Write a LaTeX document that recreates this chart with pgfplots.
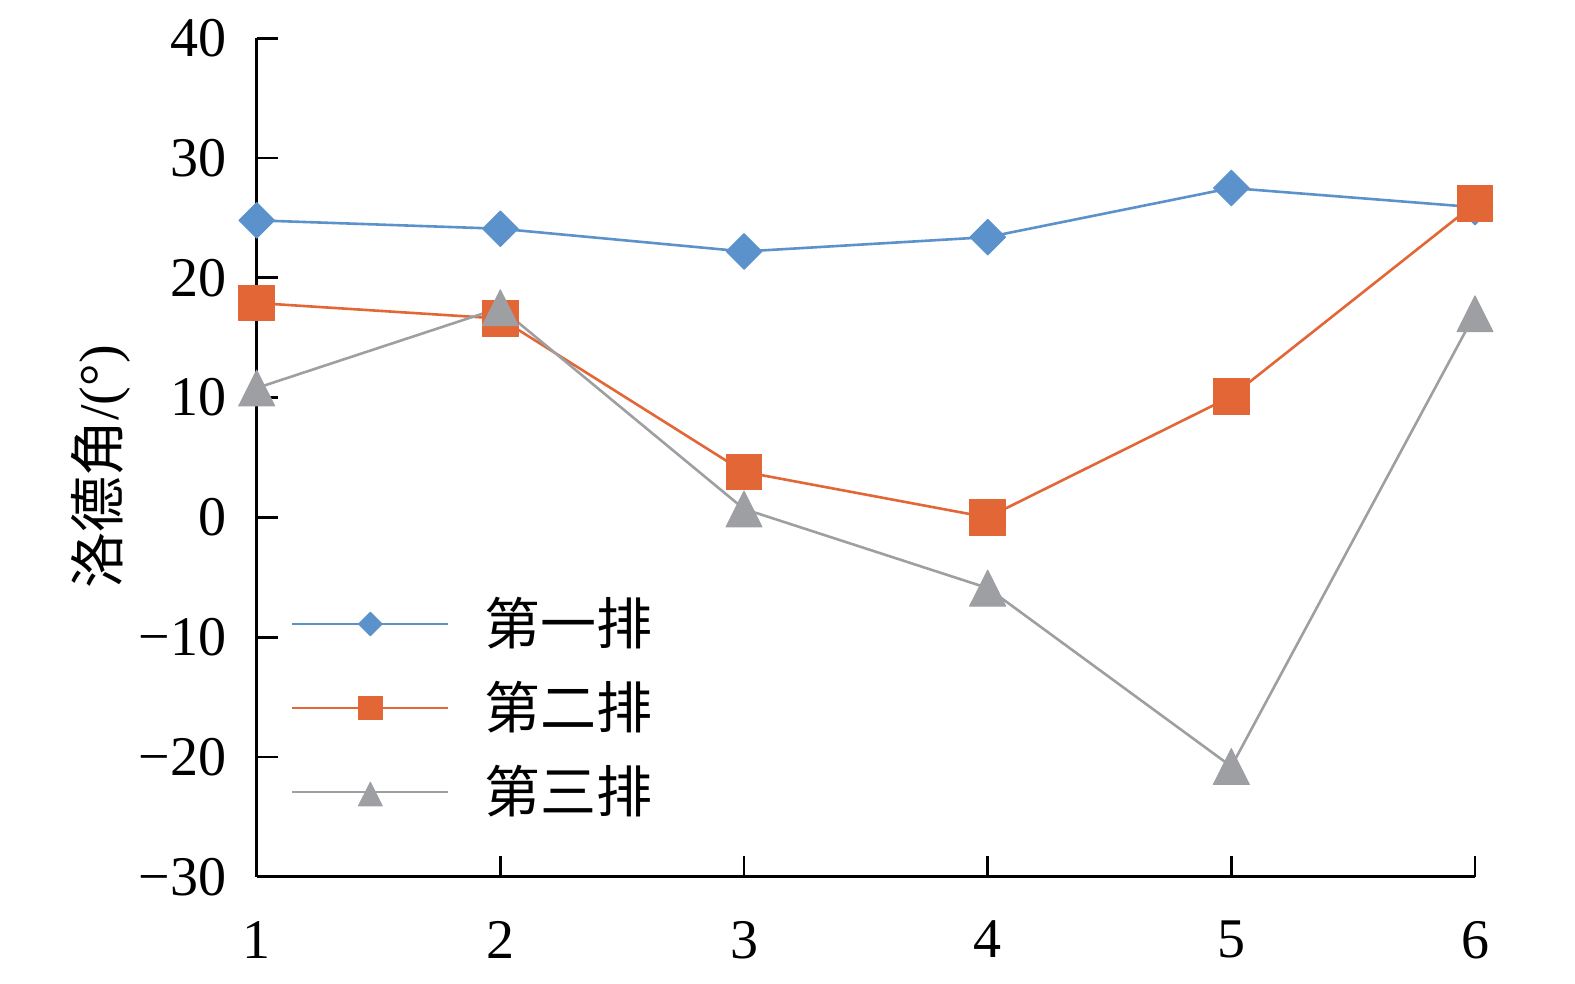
\documentclass[border=0pt]{standalone}
\usepackage{fontspec}
\setmainfont{Liberation Serif}
\newfontfamily\cjk{Noto Sans CJK SC}
\usepackage{pgfplots}
\pgfplotsset{compat=1.18}
\definecolor{cblue}{RGB}{91,146,204}
\definecolor{corange}{RGB}{226,102,54}
\definecolor{cgray}{RGB}{158,159,163}
\begin{document}
\begin{tikzpicture}
\begin{axis}[
  scale only axis, width=609.15pt, height=419.2pt,
  xmin=1, xmax=6, ymin=-30, ymax=40,
  axis lines*=left,
  axis line style={line width=1.35pt, black},
  tick align=inside,
  major tick length=10.5pt,
  every tick/.style={line width=1.35pt, black},
  xtick={1,2,3,4,5,6},
  xticklabels={1,2,3,4,5,6},
  ytick={-30,-20,-10,0,10,20,30,40},
  yticklabels={−30,−20,−10,0,10,20,30,40},
  tick label style={font=\fontsize{28}{34}\selectfont, inner sep=0pt},
  yticklabel style={anchor=east, xshift=-15pt},
  xticklabel style={anchor=north, yshift=-22pt},
  ylabel={{\cjk 洛德角}/(°)},
  ylabel style={font=\fontsize{28}{34}\selectfont, at={(axis description cs:-0.128,0.4887)}, anchor=center, inner sep=0pt},
  clip=false,
  legend cell align=left,
  legend style={at={(axis description cs:0.0282,0.2012)}, anchor=west, draw=none, fill=none,
    inner sep=0pt, outer sep=0pt, row sep=16pt, column sep=17.5pt,
    nodes={inner sep=0pt, text height=23pt, text depth=3pt, font=\fontsize{28}{34}\selectfont\cjk}},
  legend image code/.code={\draw[mark repeat=2,mark phase=2,every mark/.append style={scale=0.66}] plot coordinates {(0pt,0pt)(39pt,0pt)(78pt,0pt)};},
]
\addplot[color=cblue, line width=1.3pt, mark=square*, mark size=6.3pt,
  mark options={rotate=45, line width=0.5pt, fill=cblue, draw=cblue, line join=round}]
  coordinates {(1,24.8) (2,24.1) (3,22.2) (4,23.4) (5,27.5) (6,25.9)};
\addplot[color=corange, line width=1.3pt, mark=square*, mark size=8.9pt,
  mark options={line width=0.5pt, fill=corange, draw=corange, line join=round}]
  coordinates {(1,17.9) (2,16.6) (3,3.8) (4,0.0) (5,10.1) (6,26.2)};
\addplot[color=cgray, line width=1.3pt, mark=triangle*, mark size=10.4pt,
  mark options={yshift=-3pt, yscale=1.15, line width=0.5pt, fill=cgray, draw=cgray, line join=round}]
  coordinates {(1,10.8) (2,17.5) (3,0.7) (4,-5.9) (5,-20.8) (6,17.0)};
\legend{第一排,第二排,第三排}
\end{axis}
\pgfresetboundingbox
\path[use as bounding box] (-128.35pt,-53.65pt) rectangle (659.15pt,438.35pt);
\end{tikzpicture}
\end{document}
